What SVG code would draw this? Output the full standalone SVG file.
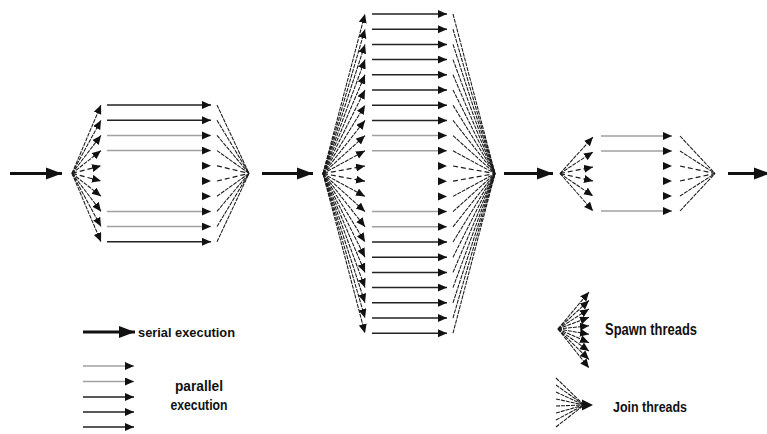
<svg xmlns="http://www.w3.org/2000/svg" width="767" height="434" viewBox="0 0 767 434">
  <defs>
    <marker id="head" markerUnits="userSpaceOnUse" markerWidth="10" markerHeight="9" refX="9" refY="4" orient="auto">
      <path d="M0,0 L9,4 L0,8 z" fill="#111"/>
    </marker>
    <marker id="bighead" markerUnits="userSpaceOnUse" markerWidth="17" markerHeight="13" refX="16" refY="6" orient="auto">
      <path d="M0,0 L16,6 L0,12 z" fill="#111"/>
    </marker>
    <style>
      .serial { stroke: #111; stroke-width: 3; fill: none; marker-end: url(#bighead); }
      .thread { stroke: #222; stroke-width: 1.5; fill: none; marker-end: url(#head); }
      .thread.light { stroke: #a0a0a0; }
      .tip { stroke: none; fill: none; marker-end: url(#head); }
      .fan { stroke: #1a1a1a; stroke-width: 1.05; fill: none; stroke-dasharray: 4 1; }
      .fan.arrow { marker-end: url(#head); }
      .fan.mid { stroke-dasharray: 5 3; stroke-width: 1.2; }
      .label { font-family: "Liberation Sans", Arial, sans-serif; font-weight: bold; fill: #111; }
    </style>
  </defs>

  <!-- serial execution between the parallel regions -->
  <g id="connectors">
    <line class="serial" x1="10" y1="173.4" x2="62" y2="173.4"/>
    <line class="serial" x1="262" y1="173.4" x2="313" y2="173.4"/>
    <line class="serial" x1="504" y1="173.4" x2="553" y2="173.4"/>
    <line class="serial" x1="728" y1="173.4" x2="770" y2="173.4"/>
  </g>

  <!-- first parallel region: 10 threads -->
  <g id="region1">
    <g id="region1-spawn">
      <line class="fan arrow" x1="72" y1="173.4" x2="101" y2="105"/>
      <line class="fan arrow" x1="72" y1="173.4" x2="101" y2="120.2"/>
      <line class="fan arrow" x1="72" y1="173.4" x2="101" y2="135.4"/>
      <line class="fan arrow" x1="72" y1="173.4" x2="101" y2="150.6"/>
      <line class="fan arrow mid" x1="72" y1="173.4" x2="101" y2="165.8"/>
      <line class="fan arrow mid" x1="72" y1="173.4" x2="101" y2="181"/>
      <line class="fan arrow" x1="72" y1="173.4" x2="101" y2="196.2"/>
      <line class="fan arrow" x1="72" y1="173.4" x2="101" y2="211.4"/>
      <line class="fan arrow" x1="72" y1="173.4" x2="101" y2="226.6"/>
      <line class="fan arrow" x1="72" y1="173.4" x2="101" y2="241.8"/>
    </g>
    <g id="region1-threads">
      <line class="thread" x1="107" y1="105" x2="211" y2="105"/>
      <line class="thread" x1="107" y1="120.2" x2="211" y2="120.2"/>
      <line class="thread light" x1="107" y1="135.4" x2="211" y2="135.4"/>
      <line class="thread light" x1="107" y1="150.6" x2="211" y2="150.6"/>
      <line class="tip" x1="203" y1="165.8" x2="211" y2="165.8"/>
      <line class="tip" x1="203" y1="181" x2="211" y2="181"/>
      <line class="tip" x1="203" y1="196.2" x2="211" y2="196.2"/>
      <line class="thread light" x1="107" y1="211.4" x2="211" y2="211.4"/>
      <line class="thread light" x1="107" y1="226.6" x2="211" y2="226.6"/>
      <line class="thread" x1="107" y1="241.8" x2="211" y2="241.8"/>
    </g>
    <g id="region1-join">
      <line class="fan" x1="217" y1="105" x2="249" y2="173.4"/>
      <line class="fan" x1="217" y1="120.2" x2="249" y2="173.4"/>
      <line class="fan" x1="217" y1="135.4" x2="249" y2="173.4"/>
      <line class="fan" x1="217" y1="150.6" x2="249" y2="173.4"/>
      <line class="fan mid" x1="217" y1="165.8" x2="249" y2="173.4"/>
      <line class="fan mid" x1="217" y1="181" x2="249" y2="173.4"/>
      <line class="fan" x1="217" y1="196.2" x2="249" y2="173.4"/>
      <line class="fan" x1="217" y1="211.4" x2="249" y2="173.4"/>
      <line class="fan" x1="217" y1="226.6" x2="249" y2="173.4"/>
      <line class="fan" x1="217" y1="241.8" x2="249" y2="173.4"/>
    </g>
  </g>

  <!-- second parallel region: 22 threads -->
  <g id="region2">
    <g id="region2-spawn">
      <line class="fan arrow" x1="323" y1="173.6" x2="365" y2="14"/>
      <line class="fan arrow" x1="323" y1="173.6" x2="365" y2="29.2"/>
      <line class="fan arrow" x1="323" y1="173.6" x2="365" y2="44.4"/>
      <line class="fan arrow" x1="323" y1="173.6" x2="365" y2="59.6"/>
      <line class="fan arrow" x1="323" y1="173.6" x2="365" y2="74.8"/>
      <line class="fan arrow" x1="323" y1="173.6" x2="365" y2="90"/>
      <line class="fan arrow" x1="323" y1="173.6" x2="365" y2="105.2"/>
      <line class="fan arrow" x1="323" y1="173.6" x2="365" y2="120.4"/>
      <line class="fan arrow" x1="323" y1="173.6" x2="365" y2="135.6"/>
      <line class="fan arrow" x1="323" y1="173.6" x2="365" y2="150.8"/>
      <line class="fan arrow mid" x1="323" y1="173.6" x2="365" y2="166"/>
      <line class="fan arrow mid" x1="323" y1="173.6" x2="365" y2="181.2"/>
      <line class="fan arrow" x1="323" y1="173.6" x2="365" y2="196.4"/>
      <line class="fan arrow" x1="323" y1="173.6" x2="365" y2="211.6"/>
      <line class="fan arrow" x1="323" y1="173.6" x2="365" y2="226.8"/>
      <line class="fan arrow" x1="323" y1="173.6" x2="365" y2="242"/>
      <line class="fan arrow" x1="323" y1="173.6" x2="365" y2="257.2"/>
      <line class="fan arrow" x1="323" y1="173.6" x2="365" y2="272.4"/>
      <line class="fan arrow" x1="323" y1="173.6" x2="365" y2="287.6"/>
      <line class="fan arrow" x1="323" y1="173.6" x2="365" y2="302.8"/>
      <line class="fan arrow" x1="323" y1="173.6" x2="365" y2="318"/>
      <line class="fan arrow" x1="323" y1="173.6" x2="365" y2="333.2"/>
    </g>
    <g id="region2-threads">
      <line class="thread" x1="372" y1="14" x2="447" y2="14"/>
      <line class="thread" x1="372" y1="29.2" x2="447" y2="29.2"/>
      <line class="thread" x1="372" y1="44.4" x2="447" y2="44.4"/>
      <line class="thread" x1="372" y1="59.6" x2="447" y2="59.6"/>
      <line class="thread" x1="372" y1="74.8" x2="447" y2="74.8"/>
      <line class="thread" x1="372" y1="90" x2="447" y2="90"/>
      <line class="thread" x1="372" y1="105.2" x2="447" y2="105.2"/>
      <line class="thread" x1="372" y1="120.4" x2="447" y2="120.4"/>
      <line class="thread light" x1="372" y1="135.6" x2="447" y2="135.6"/>
      <line class="thread light" x1="372" y1="150.8" x2="447" y2="150.8"/>
      <line class="tip" x1="439" y1="166" x2="447" y2="166"/>
      <line class="tip" x1="439" y1="181.2" x2="447" y2="181.2"/>
      <line class="tip" x1="439" y1="196.4" x2="447" y2="196.4"/>
      <line class="thread light" x1="372" y1="211.6" x2="447" y2="211.6"/>
      <line class="thread light" x1="372" y1="226.8" x2="447" y2="226.8"/>
      <line class="thread" x1="372" y1="242" x2="447" y2="242"/>
      <line class="thread" x1="372" y1="257.2" x2="447" y2="257.2"/>
      <line class="thread" x1="372" y1="272.4" x2="447" y2="272.4"/>
      <line class="thread" x1="372" y1="287.6" x2="447" y2="287.6"/>
      <line class="thread" x1="372" y1="302.8" x2="447" y2="302.8"/>
      <line class="thread" x1="372" y1="318" x2="447" y2="318"/>
      <line class="thread" x1="372" y1="333.2" x2="447" y2="333.2"/>
    </g>
    <g id="region2-join">
      <line class="fan" x1="453" y1="14" x2="495" y2="173.6"/>
      <line class="fan" x1="453" y1="29.2" x2="495" y2="173.6"/>
      <line class="fan" x1="453" y1="44.4" x2="495" y2="173.6"/>
      <line class="fan" x1="453" y1="59.6" x2="495" y2="173.6"/>
      <line class="fan" x1="453" y1="74.8" x2="495" y2="173.6"/>
      <line class="fan" x1="453" y1="90" x2="495" y2="173.6"/>
      <line class="fan" x1="453" y1="105.2" x2="495" y2="173.6"/>
      <line class="fan" x1="453" y1="120.4" x2="495" y2="173.6"/>
      <line class="fan" x1="453" y1="135.6" x2="495" y2="173.6"/>
      <line class="fan" x1="453" y1="150.8" x2="495" y2="173.6"/>
      <line class="fan mid" x1="453" y1="166" x2="495" y2="173.6"/>
      <line class="fan mid" x1="453" y1="181.2" x2="495" y2="173.6"/>
      <line class="fan" x1="453" y1="196.4" x2="495" y2="173.6"/>
      <line class="fan" x1="453" y1="211.6" x2="495" y2="173.6"/>
      <line class="fan" x1="453" y1="226.8" x2="495" y2="173.6"/>
      <line class="fan" x1="453" y1="242" x2="495" y2="173.6"/>
      <line class="fan" x1="453" y1="257.2" x2="495" y2="173.6"/>
      <line class="fan" x1="453" y1="272.4" x2="495" y2="173.6"/>
      <line class="fan" x1="453" y1="287.6" x2="495" y2="173.6"/>
      <line class="fan" x1="453" y1="302.8" x2="495" y2="173.6"/>
      <line class="fan" x1="453" y1="318" x2="495" y2="173.6"/>
      <line class="fan" x1="453" y1="333.2" x2="495" y2="173.6"/>
    </g>
  </g>

  <!-- third parallel region: 6 threads -->
  <g id="region3">
    <g id="region3-spawn">
      <line class="fan arrow" x1="560" y1="173.5" x2="593" y2="137"/>
      <line class="fan arrow" x1="560" y1="173.5" x2="593" y2="152"/>
      <line class="fan arrow mid" x1="560" y1="173.5" x2="593" y2="167"/>
      <line class="fan arrow mid" x1="560" y1="173.5" x2="593" y2="181"/>
      <line class="fan arrow" x1="560" y1="173.5" x2="593" y2="196"/>
      <line class="fan arrow" x1="560" y1="173.5" x2="593" y2="211"/>
    </g>
    <g id="region3-threads">
      <line class="thread light" x1="601" y1="136" x2="672" y2="136"/>
      <line class="thread light" x1="601" y1="151" x2="672" y2="151"/>
      <line class="tip" x1="664" y1="166" x2="672" y2="166"/>
      <line class="tip" x1="664" y1="181" x2="672" y2="181"/>
      <line class="tip" x1="664" y1="196" x2="672" y2="196"/>
      <line class="thread light" x1="601" y1="211" x2="672" y2="211"/>
    </g>
    <g id="region3-join">
      <line class="fan" x1="680" y1="136" x2="715" y2="173.5"/>
      <line class="fan" x1="680" y1="151" x2="715" y2="173.5"/>
      <line class="fan mid" x1="680" y1="166" x2="715" y2="173.5"/>
      <line class="fan mid" x1="680" y1="181" x2="715" y2="173.5"/>
      <line class="fan" x1="680" y1="196" x2="715" y2="173.5"/>
      <line class="fan" x1="680" y1="211" x2="715" y2="173.5"/>
    </g>
  </g>

  <!-- legend: serial execution -->
  <g id="legend-serial">
    <line class="serial" x1="83" y1="332" x2="135" y2="332"/>
    <text class="label" x="138" y="336.5" font-size="13" textLength="97" lengthAdjust="spacingAndGlyphs">serial execution</text>
  </g>

  <!-- legend: parallel execution -->
  <g id="legend-parallel">
    <line class="thread light" x1="83" y1="366" x2="134" y2="366"/>
    <line class="thread light" x1="83" y1="381.5" x2="134" y2="381.5"/>
    <line class="thread" x1="83" y1="397" x2="134" y2="397"/>
    <line class="thread" x1="83" y1="412" x2="134" y2="412"/>
    <line class="thread" x1="83" y1="427" x2="134" y2="427"/>
    <text class="label" x="199" y="391" font-size="14" text-anchor="middle" textLength="48" lengthAdjust="spacingAndGlyphs">parallel</text>
    <text class="label" x="199" y="410" font-size="14" text-anchor="middle" textLength="57" lengthAdjust="spacingAndGlyphs">execution</text>
  </g>

  <!-- legend: spawn threads -->
  <g id="legend-spawn">
    <line class="fan arrow" x1="558" y1="329" x2="589" y2="292"/>
    <line class="fan arrow" x1="558" y1="329" x2="589" y2="300.4"/>
    <line class="fan arrow" x1="558" y1="329" x2="589" y2="308.9"/>
    <line class="fan arrow" x1="558" y1="329" x2="589" y2="317.3"/>
    <line class="fan arrow" x1="558" y1="329" x2="589" y2="325.8"/>
    <line class="fan arrow" x1="558" y1="329" x2="589" y2="334.2"/>
    <line class="fan arrow" x1="558" y1="329" x2="589" y2="342.7"/>
    <line class="fan arrow" x1="558" y1="329" x2="589" y2="351.1"/>
    <line class="fan arrow" x1="558" y1="329" x2="589" y2="359.6"/>
    <line class="fan arrow" x1="558" y1="329" x2="589" y2="368"/>
    <text class="label" x="605" y="334.5" font-size="16" textLength="92" lengthAdjust="spacingAndGlyphs">Spawn threads</text>
  </g>

  <!-- legend: join threads -->
  <g id="legend-join">
    <line class="fan" x1="556" y1="378" x2="584" y2="405"/>
    <line class="fan" x1="556" y1="385" x2="584" y2="405"/>
    <line class="fan" x1="556" y1="392" x2="584" y2="405"/>
    <line class="fan" x1="556" y1="399" x2="584" y2="405"/>
    <line class="fan" x1="556" y1="406" x2="584" y2="405"/>
    <line class="fan" x1="556" y1="413" x2="584" y2="405"/>
    <line class="fan" x1="556" y1="420" x2="584" y2="405"/>
    <line class="fan" x1="556" y1="427" x2="584" y2="405"/>
    <path d="M582,399.5 L593,405 L582,410.5 z" fill="#111"/>
    <text class="label" x="613" y="411.5" font-size="15" textLength="74" lengthAdjust="spacingAndGlyphs">Join threads</text>
  </g>
</svg>
